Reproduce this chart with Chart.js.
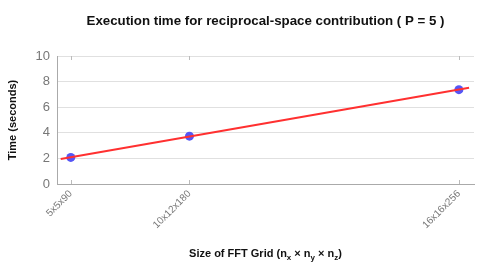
<!DOCTYPE html>
<html><head><meta charset="utf-8">
<script src="https://cdn.jsdelivr.net/npm/chart.js@4/dist/chart.umd.min.js"></script>
<style>html,body{margin:0;padding:0;background:#fff}#wrap{width:498px;height:279px}</style>
</head><body><div id="wrap"><canvas id="c"></canvas></div>
<script>
const categories = ['5x5x90', '10x12x180', '16x16x256'];
const gridPoints = [2250, 21600, 65536];
const times = [2.08, 3.74, 7.37];
const fitX = [600, 67200];
const fitY = [1.96, 7.52];
const yTicks = [0, 2, 4, 6, 8, 10];
const titleText = 'Execution time for reciprocal-space contribution ( P = 5 )';
const xTitleParts = [['Size of FFT Grid (n', 0], ['x', 1], [' \u00d7 n', 0], ['y', 1], [' \u00d7 n', 0], ['z', 1], [')', 0]];

const FONT = "'Liberation Sans', Arial, sans-serif";

const deco = {
  id: 'deco',
  afterDraw(chart) {
    const ctx = chart.ctx, a = chart.chartArea, xs = chart.scales.x;
    ctx.save();
    ctx.strokeStyle = '#bbbbbb'; ctx.lineWidth = 1;
    gridPoints.forEach(v => {
      const px = Math.round(xs.getPixelForValue(v)) + 0.5;
      ctx.beginPath(); ctx.moveTo(px, a.top); ctx.lineTo(px, a.top + 4); ctx.stroke();
      ctx.beginPath(); ctx.moveTo(px, a.bottom); ctx.lineTo(px, a.bottom - 4); ctx.stroke();
    });
    ctx.fillStyle = '#111';
    ctx.font = 'bold 13.3px ' + FONT;
    ctx.textAlign = 'center'; ctx.textBaseline = 'middle';
    ctx.fillText(titleText, (a.left + a.right) / 2, 21);
    const big = 'bold 11px ' + FONT, small = 'bold 8px ' + FONT;
    let w = 0;
    xTitleParts.forEach(([t, s]) => { ctx.font = s ? small : big; w += ctx.measureText(t).width; });
    let x = (a.left + a.right) / 2 - w / 2;
    const y = 257;
    ctx.textAlign = 'left'; ctx.textBaseline = 'alphabetic';
    xTitleParts.forEach(([t, s]) => {
      ctx.font = s ? small : big;
      ctx.fillText(t, x, s ? y + 3 : y);
      x += ctx.measureText(t).width;
    });
    ctx.restore();
  }
};

new Chart(document.getElementById('c'), {
  type: 'scatter',
  data: {
    datasets: [
      {
        type: 'line',
        data: fitX.map((v, i) => ({ x: v, y: fitY[i] })),
        borderColor: '#ff3030', borderWidth: 2, pointRadius: 0, fill: false, tension: 0
      },
      {
        data: gridPoints.map((v, i) => ({ x: v, y: times[i] })),
        backgroundColor: '#5555f5', borderColor: '#5555f5', pointRadius: 4.5, borderWidth: 0
      }
    ]
  },
  options: {
    responsive: true, maintainAspectRatio: false, animation: false,
    layout: { padding: { left: 0, right: 24, top: 56, bottom: 0 } },
    plugins: { legend: { display: false }, tooltip: { enabled: false }, title: { display: false } },
    scales: {
      x: {
        type: 'linear', min: 0, max: 68000,
        afterBuildTicks(s) { s.ticks = gridPoints.map(v => ({ value: v })); },
        afterFit(s) { s.height = 95; },
        grid: { display: false, drawTicks: false },
        border: { display: true, color: '#aaaaaa' },
        ticks: {
          autoSkip: false, maxRotation: 45, minRotation: 45, color: '#777',
          font: { family: FONT, size: 10 }, padding: 4,
          callback(v) { const i = gridPoints.indexOf(v); return i >= 0 ? categories[i] : ''; }
        }
      },
      y: {
        min: 0, max: 10,
        afterBuildTicks(s) { s.ticks = yTicks.map(v => ({ value: v })); },
        afterFit(s) { s.width = 57; },
        grid: { color: '#e0e0e0', borderDash: [3, 2], drawTicks: false },
        border: { display: true, color: '#aaaaaa', dash: [] },
        ticks: { color: '#777', font: { family: FONT, size: 13 }, padding: 7 },
        title: { display: true, text: 'Time (seconds)', color: '#111', font: { family: FONT, size: 11, weight: 'bold' }, padding: { top: 6, bottom: 4 } }
      }
    }
  },
  plugins: [deco]
});
</script></body></html>
